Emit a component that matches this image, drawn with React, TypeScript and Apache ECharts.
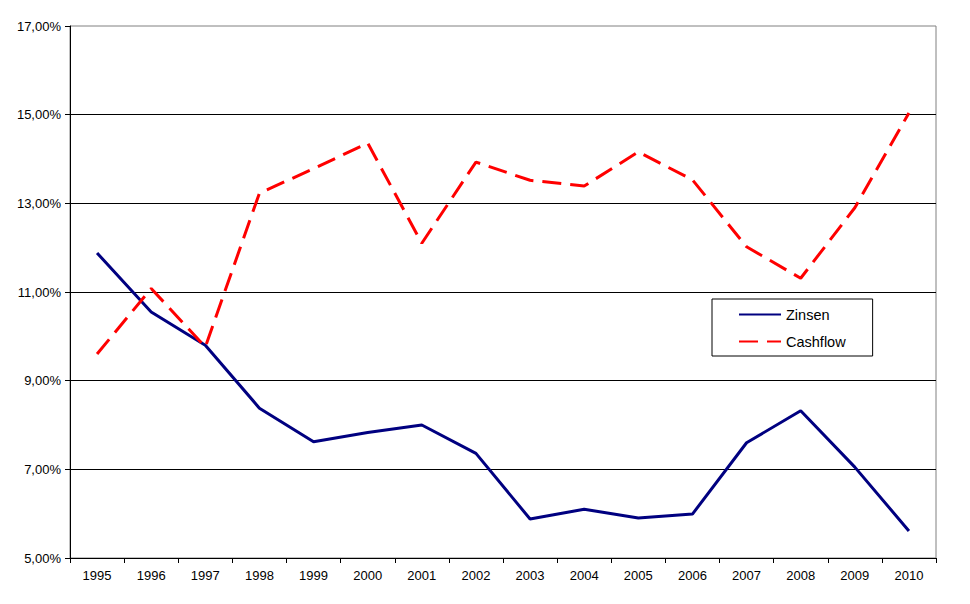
import React, { useRef, useEffect } from 'react'
import * as echarts from 'echarts'

const years = [
  '1995', '1996', '1997', '1998', '1999', '2000', '2001', '2002',
  '2003', '2004', '2005', '2006', '2007', '2008', '2009', '2010',
]
const zinsen = [
  11.88, 10.55, 9.8, 8.38, 7.62, 7.83, 8.0, 7.36,
  5.88, 6.1, 5.9, 5.99, 7.6, 8.32, 7.05, 5.61,
]
const cashflow = [
  9.6, 11.08, 9.76, 13.23, 13.78, 14.36, 12.1, 13.93,
  13.52, 13.39, 14.16, 13.53, 12.02, 11.31, 12.9, 15.04,
]
const yMin = 5
const yMax = 17
const yStep = 2

const font = '"Liberation Sans", Arial, sans-serif'

export default function App() {
  const containerRef = useRef<HTMLDivElement>(null)

  useEffect(() => {
    if (!containerRef.current) return
    const chart = echarts.init(containerRef.current, undefined, { renderer: 'svg' })

    chart.setOption({
      animation: false,
      backgroundColor: '#fff',
      textStyle: { fontFamily: font },
      grid: {
        left: 70,
        top: 26,
        width: 866,
        height: 532,
        show: true,
        borderColor: '#808080',
        borderWidth: 1,
      },
      legend: {
        orient: 'vertical',
        left: 712,
        top: 299,
        padding: [8, 27, 7, 26],
        itemGap: 12,
        itemWidth: 42,
        itemHeight: 14,
        borderColor: '#000',
        borderWidth: 1,
        itemStyle: { opacity: 0 },
        textStyle: { fontSize: 14.5, color: '#000', fontFamily: font },
        data: ['Zinsen', 'Cashflow'],
      },
      xAxis: {
        type: 'category',
        data: years,
        boundaryGap: true,
        axisLine: { lineStyle: { color: '#000', width: 1 } },
        axisTick: {
          show: true,
          interval: 0,
          length: 5,
          lineStyle: { color: '#000' },
        },
        axisLabel: {
          interval: 0,
          margin: 11,
          color: '#000',
          fontSize: 13,
          fontFamily: font,
        },
        splitLine: { show: false },
      },
      yAxis: {
        type: 'value',
        min: yMin,
        max: yMax,
        interval: yStep,
        axisLine: { show: true, lineStyle: { color: '#000', width: 1 } },
        axisTick: { show: true, length: 5, lineStyle: { color: '#000' } },
        axisLabel: {
          margin: 9,
          color: '#000',
          fontSize: 13,
          fontFamily: font,
          formatter: (v: number) => v.toFixed(2).replace('.', ',') + '%',
        },
        splitLine: {
          show: true,
          showMaxLine: false,
          lineStyle: { color: '#000', width: 1 },
        },
      },
      series: [
        {
          name: 'Zinsen',
          type: 'line',
          data: zinsen,
          symbol: 'none',
          lineStyle: { color: '#000080', width: 3 },
          itemStyle: { color: '#000080' },
        },
        {
          name: 'Cashflow',
          type: 'line',
          data: cashflow,
          symbol: 'none',
          lineStyle: { color: '#ff0000', width: 3, type: [19, 9] },
          itemStyle: { color: '#ff0000' },
        },
      ],
    })

    return () => {
      chart.dispose()
    }
  }, [])

  return (
    <div
      ref={containerRef}
      style={{ position: 'fixed', left: 0, top: 0, width: 970, height: 604 }}
    />
  )
}
